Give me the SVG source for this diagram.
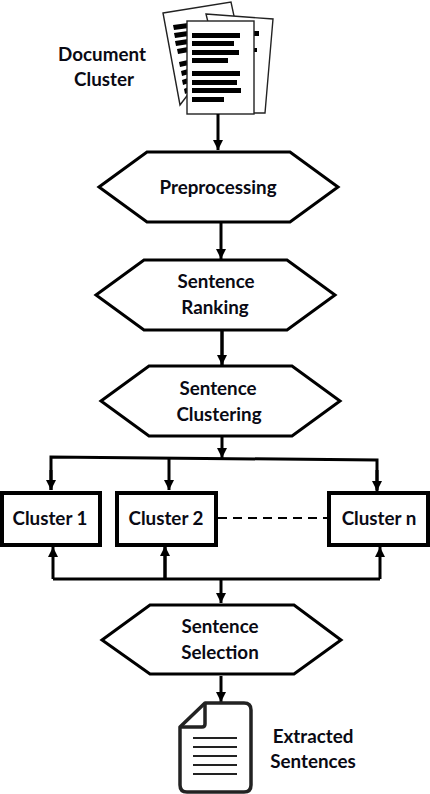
<svg xmlns="http://www.w3.org/2000/svg" width="430" height="794" viewBox="0 0 430 794">
<style>
text{font-family:Lato,"Liberation Sans",sans-serif;font-size:18.8px;font-weight:700;fill:#0a0a14;text-anchor:middle}
.hex{fill:#fff;stroke:#000;stroke-width:3;stroke-linejoin:miter}
.box{fill:#fff;stroke:#000;stroke-width:4}
.c{fill:none;stroke:#000;stroke-width:3}
.page{fill:#fff;stroke:#222;stroke-width:1.4}
.bar{fill:#000}
.line{stroke:#222;stroke-width:2}
</style>
<defs>
<marker id="a" markerUnits="userSpaceOnUse" markerWidth="12" markerHeight="10" refX="10" refY="5" orient="auto"><path d="M0 0L10 5L0 10Z" fill="#000"/></marker>
</defs>
<g id="doc-cluster">
<polygon class="page" points="163,13 231,2 237,30 180,105"/>
<g class="bar"><polygon points="173,25 188,23 189,28 174,30"/><polygon points="174,33 188,31 189,36 175,38"/><polygon points="175,41 188,39 189,44 176,46"/><polygon points="177,49 188,47 189,52 178,54"/><polygon points="179,62 188,60 189,65 180,67"/><polygon points="181,71 188,69 189,74 182,76"/><polygon points="182,80 188,78 189,83 183,85"/><polygon points="184,89 188,87 189,92 185,94"/></g>
<polygon class="page" points="206,14 273,19 265,113 230,113"/>
<rect class="bar" x="254" y="31" width="5" height="5"/><rect class="bar" x="254" y="48" width="3" height="4"/>
<rect class="page" x="187" y="21" width="67" height="93"/>
<g class="bar"><rect x="192" y="33" width="48" height="5"/><rect x="192" y="41" width="42" height="5"/><rect x="192" y="50" width="47" height="5"/><rect x="192" y="58" width="36" height="5"/><rect x="192" y="71" width="48" height="5"/><rect x="192" y="80" width="45" height="5"/><rect x="192" y="88" width="49" height="5"/><rect x="192" y="97" width="32" height="5"/></g>
<text x="102" y="61">Document</text><text x="104" y="86">Cluster</text>
</g>
<g id="connectors">
<path class="c" d="M218 114V150" marker-end="url(#a)"/>
<path class="c" d="M221 222V259" marker-end="url(#a)"/>
<path class="c" d="M222 331V365" marker-end="url(#a)" style="stroke-width:3.5"/>
<path class="c" d="M222 437V458" marker-end="url(#a)"/>
<path class="c" d="M51 490V457L377 460V490"/>
<path class="c" d="M51 470V490" marker-end="url(#a)"/>
<path class="c" d="M169 459V490" marker-end="url(#a)"/>
<path class="c" d="M377 470V491" marker-end="url(#a)"/>
<path class="c" d="M53 579H380"/>
<path class="c" d="M53 579V547" marker-end="url(#a)"/>
<path class="c" d="M165 579V546" marker-end="url(#a)" style="stroke-width:3.5"/>
<path class="c" d="M380 579V547" marker-end="url(#a)"/>
<path class="c" d="M221 579V603" marker-end="url(#a)"/>
<path class="c" d="M221 676V702" marker-end="url(#a)"/>
<path d="M218 518H327" fill="none" stroke="#000" stroke-width="2" stroke-dasharray="9 6"/>
</g>
<g id="preprocessing"><polygon class="hex" points="99,187 147,152 290,152 338,187 290,222 147,222"/><text x="218" y="194">Preprocessing</text></g>
<g id="ranking"><polygon class="hex" points="96,295 144,260 287,260 335,295 287,330 144,330"/><text x="216" y="288">Sentence</text><text x="215" y="314">Ranking</text></g>
<g id="clustering"><polygon class="hex" points="101,401 149,366 292,366 340,401 292,436 149,436"/><text x="218" y="395">Sentence</text><text x="219" y="421">Clustering</text></g>
<g id="cluster1"><rect class="box" x="2" y="493" width="98" height="52"/><text x="50" y="525">Cluster 1</text></g>
<g id="cluster2"><rect class="box" x="117" y="493" width="99" height="52"/><text x="166" y="525">Cluster 2</text></g>
<g id="clustern"><rect class="box" x="329" y="493" width="99" height="52"/><text x="379" y="525">Cluster n</text></g>
<g id="selection"><polygon class="hex" points="102,640 150,605 294,605 341,640 294,674 150,674"/><text x="220" y="633">Sentence</text><text x="220" y="659">Selection</text></g>
<g id="extracted">
<path d="M205 703H244Q251 703 251 710V785Q251 792 244 792H187Q180 792 180 785V727Z" fill="#fff" stroke="#222" stroke-width="3.5" stroke-linejoin="round"/>
<path d="M205 703V724Q205 727 202 727H180" fill="none" stroke="#222" stroke-width="3.5"/>
<path class="line" d="M193 738H237M193 747H237M193 756H237M193 765H237M193 774H237"/>
<text x="313" y="743">Extracted</text><text x="313" y="768">Sentences</text>
</g>
</svg>
